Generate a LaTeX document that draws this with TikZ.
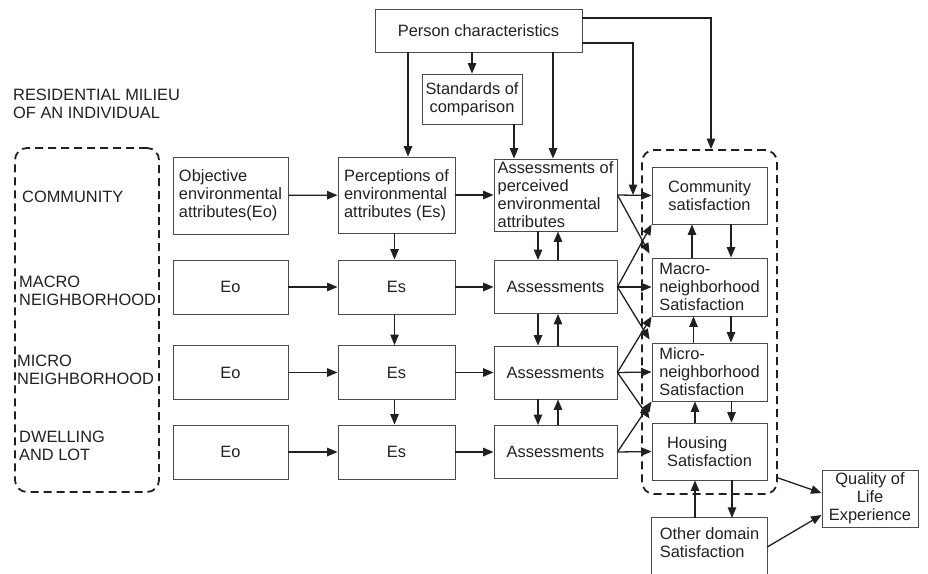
\documentclass[tikz,border=0pt]{standalone}
\usepackage{fontspec}
\setmainfont{Liberation Sans}
\usetikzlibrary{arrows.meta,calc}
\definecolor{ink}{HTML}{231F20}
\definecolor{boxc}{HTML}{4A4A4A}
\begin{document}
\begin{tikzpicture}[x=1pt,y=-1pt,
  every node/.style={font=\fontsize{16.4}{18}\selectfont, text=ink, inner sep=0pt},
  bx/.style={draw=boxc, line width=0.9pt, rectangle},
  dbox/.style={draw=ink, line width=1.8pt, dash pattern=on 8pt off 5pt, rounded corners=12pt, rectangle},
  arr/.style={draw=ink, line width=1.3pt, -{Triangle[length=10.5pt,width=8.5pt]}},
  eo/.style={bx, minimum width=115pt, minimum height=54pt},
  es/.style={bx, minimum width=117pt, minimum height=54pt},
  as/.style={bx, minimum width=123pt, minimum height=53pt},
  sat/.style={bx, minimum width=115pt, minimum height=58pt}
]
\useasboundingbox (0,0) rectangle (928,573);

% dashed groups
\node[dbox, minimum width=144pt, minimum height=344pt] (lbox) at (87,320) {};
\node[dbox, minimum width=135pt, minimum height=344pt] (rbox) at (709.5,322) {};

% left labels
\node[anchor=west, align=left] (milieu) at (13,103.5) {RESIDENTIAL MILIEU\\OF AN INDIVIDUAL};
\node[anchor=west] (lcom) at (22,197) {COMMUNITY};
\node[anchor=west, align=left] (lmac) at (19,291) {MACRO\\NEIGHBORHOOD};
\node[anchor=west, align=left] (lmic) at (17,370) {MICRO\\NEIGHBORHOOD};
\node[anchor=west, align=left] (ldw) at (19,446) {DWELLING\\AND LOT};

% top
\node[bx, minimum width=207pt, minimum height=43pt] (person) at (478.5,30.5) {Person characteristics};
\node[bx, align=center, minimum width=100pt, minimum height=50pt] (std) at (472,99) {Standards of\\comparison};

% row 1
\node[bx, align=left, minimum width=115pt, minimum height=77pt] (obj) at (230.5,195.5) {Objective\\environmental\\attributes(Eo)};
\node[bx, align=left, minimum width=117pt, minimum height=76pt] (perc) at (396.5,195) {Perceptions of\\environmental\\attributes (Es)};
\node[bx, align=left, minimum width=123pt, minimum height=72pt] (ass1) at (555.5,195) {Assessments of\\perceived\\environmental\\attributes};

% rows 2-4
\node[eo] (eo2) at (230.5,287) {Eo};
\node[es] (es2) at (396.5,287) {Es};
\node[as] (ass2) at (555.5,287) {Assessments};
\node[eo] (eo3) at (230.5,372.5) {Eo};
\node[es] (es3) at (396.5,372.5) {Es};
\node[as] (ass3) at (555.5,372.5) {Assessments};
\node[eo] (eo4) at (230.5,452) {Eo};
\node[es] (es4) at (396.5,452) {Es};
\node[as] (ass4) at (555.5,452) {Assessments};

% satisfaction
\node[sat, align=center, minimum height=57pt] (com) at (709.5,195.5) {Community\\satisfaction};
\node[sat, align=left] (macro) at (709.5,287) {Macro-\\neighborhood\\Satisfaction};
\node[sat, align=left] (micro) at (709.5,372) {Micro-\\neighborhood\\Satisfaction};
\node[sat, align=left, minimum height=57pt] (housing) at (709.5,451.5) {Housing\\Satisfaction};
\node[align=left, minimum width=115pt, minimum height=50pt] (other) at (709.5,543) {Other domain\\Satisfaction};
\draw[boxc, line width=0.9pt] ([yshift=-6pt]other.south west) |- (other.north east) -- ([yshift=-6pt]other.south east);
\node[bx, align=center, minimum width=96pt, minimum height=57pt] (qol) at (870,498.5) {Quality of\\Life\\Experience};

% person connectors
\coordinate (j1) at (633,195);
\draw[arr] ([yshift=12.5pt]person.east) -| ([xshift=1.5pt]rbox.north);
\draw[arr] ([yshift=-12.5pt]person.east) -| (j1);
\draw[arr] ([xshift=11.5pt]perc.north |- person.south) -- ([xshift=11.5pt]perc.north);
\draw[arr] (std.north |- person.south) -- (std.north);
\draw[arr] ([xshift=-41.5pt]ass1.north |- std.south) -- ([xshift=-41.5pt]ass1.north);
\draw[arr] ([xshift=-2.5pt]ass1.north |- person.south) -- ([xshift=-2.5pt]ass1.north);

% horizontal rows
\draw[arr] (obj) -- (perc);
\draw[arr] (perc) -- (ass1);
\draw[arr] (eo2) -- (es2);
\draw[arr] (es2) -- (ass2);
\draw[arr] (eo3) -- (es3);
\draw[arr] (es3) -- (ass3);
\draw[arr] (eo4) -- (es4);
\draw[arr] (es4) -- (ass4);

% Es verticals
\draw[arr] ([xshift=-2pt]perc.south) -- ([xshift=-2pt]es2.north);
\draw[arr] ([xshift=-2pt]es2.south) -- ([xshift=-2pt]es3.north);
\draw[arr] ([xshift=-2pt]es3.south) -- ([xshift=-2pt]es4.north);

% assessment verticals
\draw[arr] ([xshift=-17.5pt]ass1.south) -- ([xshift=-17.5pt]ass2.north);
\draw[arr] ([xshift=2.5pt]ass2.north) -- ([xshift=2.5pt]ass1.south);
\draw[arr] ([xshift=-17.5pt]ass2.south) -- ([xshift=-17.5pt]ass3.north);
\draw[arr] ([xshift=2.5pt]ass3.north) -- ([xshift=2.5pt]ass2.south);
\draw[arr] ([xshift=-17.5pt]ass3.south) -- ([xshift=-17.5pt]ass4.north);
\draw[arr] ([xshift=2.5pt]ass4.north) -- ([xshift=2.5pt]ass3.south);

% assessments to satisfaction
\draw[arr] (ass1.east) -- (com.west);
\draw[arr] (ass1.east) -- ([xshift=-2pt,yshift=4pt]macro.north west);
\draw[arr] (ass2.east) -- (com.south west);
\draw[arr] (ass2.east) -- (macro.west);
\draw[arr] (ass2.east) -- ([xshift=-2pt,yshift=3pt]micro.north west);
\draw[arr] (ass3.east) -- (macro.south west);
\draw[arr] (ass3.east) -- (micro.west);
\draw[arr] (ass3.east) -- ([xshift=-2pt,yshift=4pt]housing.north west);
\draw[arr] (ass4.east) -- (micro.south west);
\draw[arr] (ass4.east) -- (housing.west);

% satisfaction verticals
\draw[arr] ([xshift=-17.5pt]macro.north) -- ([xshift=-17.5pt]com.south);
\draw[arr] ([xshift=21.5pt]com.south) -- ([xshift=21.5pt]macro.north);
\draw[arr] ([xshift=-16pt]micro.north) -- ([xshift=-16pt]macro.south);
\draw[arr] ([xshift=21.5pt]macro.south) -- ([xshift=21.5pt]micro.north);
\draw[arr] ([xshift=-14.5pt]housing.north) -- ([xshift=-14.5pt]micro.south);
\draw[arr] ([xshift=22pt]micro.south) -- ([xshift=22pt]housing.north);
\draw[arr] ([xshift=-14.5pt]other.north) -- ([xshift=-14.5pt]housing.south);
\draw[arr] ([xshift=22.5pt]housing.south) -- ([xshift=22.5pt]other.north);

% to quality of life
\draw[arr] ([yshift=17pt]rbox.south east) -- ([yshift=5.5pt]qol.west);
\draw[arr] ([yshift=-4pt]other.east) -- ([yshift=-16.5pt]qol.west);
\end{tikzpicture}
\end{document}
